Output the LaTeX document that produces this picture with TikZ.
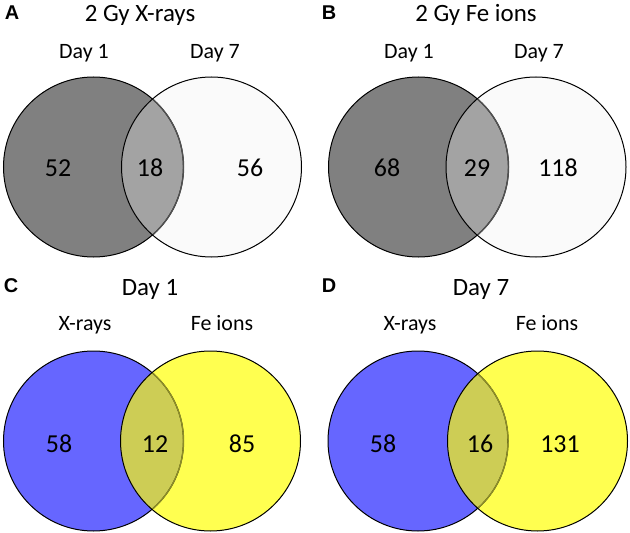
\documentclass[tikz,border=0pt]{standalone}
\usepackage{fontspec}
\setmainfont{Carlito}
\newfontfamily\letterfont{Liberation Sans}
\definecolor{dgray}{RGB}{128,128,128}
\definecolor{lwhite}{RGB}{250,250,250}
\definecolor{ogray}{RGB}{163,163,163}
\definecolor{agray}{RGB}{80,80,80}
\definecolor{vblue}{RGB}{102,102,255}
\definecolor{vyellow}{RGB}{255,255,80}
\definecolor{volive}{RGB}{205,205,85}
\definecolor{aolive}{RGB}{140,140,40}
\newcommand{\drawvenn}[7]{%
  \fill[#4] (#1,#3) circle[radius=90];
  \fill[#5] (#2,#3) circle[radius=90];
  \begin{scope}\clip (#1,#3) circle[radius=90]; \fill[#6] (#2,#3) circle[radius=90];\end{scope}
  \draw[vline] (#1,#3) circle[radius=90];
  \begin{scope}\clip (#2,#3) circle[radius=90]; \draw[vline,#7,line width=1.4bp] (#1,#3) circle[radius=90];\end{scope}
  \draw[vline] (#2,#3) circle[radius=90];
}
\begin{document}
\begin{tikzpicture}[x=1bp,y=-1bp,
  vline/.style={draw=black,line width=1bp},
  paneltag/.style={font=\letterfont\bfseries\fontsize{20}{22}\selectfont,anchor=base,inner sep=0},
  title/.style={font=\fontsize{25}{28}\selectfont,anchor=base,inner sep=0},
  setlabel/.style={font=\fontsize{22}{24}\selectfont,anchor=base,inner sep=0},
  count/.style={font=\fontsize{26}{28}\selectfont,anchor=base,inner sep=0}]
\useasboundingbox[fill=white] (0,0) rectangle (630,533);
% Panel A
\drawvenn{93.5}{211.5}{167}{dgray}{lwhite}{ogray}{agray}
\node[paneltag] (tA) at (12,20) {A};
\node[title] (titA) at (140,22) {2 Gy X-rays};
\node[setlabel] (a1) at (84,59) {Day 1};
\node[setlabel] (a7) at (215,59) {Day 7};
\node[count] (na1) at (58,177) {52};
\node[count] (na2) at (150,177) {18};
\node[count] (na3) at (250,177) {56};
% Panel B
\drawvenn{418.5}{536}{167}{dgray}{lwhite}{ogray}{agray}
\node[paneltag] (tB) at (329,20) {B};
\node[title] (titB) at (476,22) {2 Gy Fe ions};
\node[setlabel] (b1) at (409,59) {Day 1};
\node[setlabel] (b7) at (539,59) {Day 7};
\node[count] (nb1) at (387,177) {68};
\node[count] (nb2) at (477,177) {29};
\node[count] (nb3) at (558,177) {118};
% Panel C
\drawvenn{93.5}{210.5}{441}{vblue}{vyellow}{volive}{aolive}
\node[paneltag] (tC) at (11,292) {C};
\node[title] (titC) at (150,295) {Day 1};
\node[setlabel] (cx) at (85,330) {X-rays};
\node[setlabel] (cf) at (222,330) {Fe ions};
\node[count] (nc1) at (59,452) {58};
\node[count] (nc2) at (155,452) {12};
\node[count] (nc3) at (242,452) {85};
% Panel D
\drawvenn{418}{537.5}{441}{vblue}{vyellow}{volive}{aolive}
\node[paneltag] (tD) at (329,292) {D};
\node[title] (titD) at (481,295) {Day 7};
\node[setlabel] (dx) at (410,330) {X-rays};
\node[setlabel] (df) at (547,330) {Fe ions};
\node[count] (nd1) at (383,452) {58};
\node[count] (nd2) at (480,452) {16};
\node[count] (nd3) at (560,452) {131};
\end{tikzpicture}
\end{document}
